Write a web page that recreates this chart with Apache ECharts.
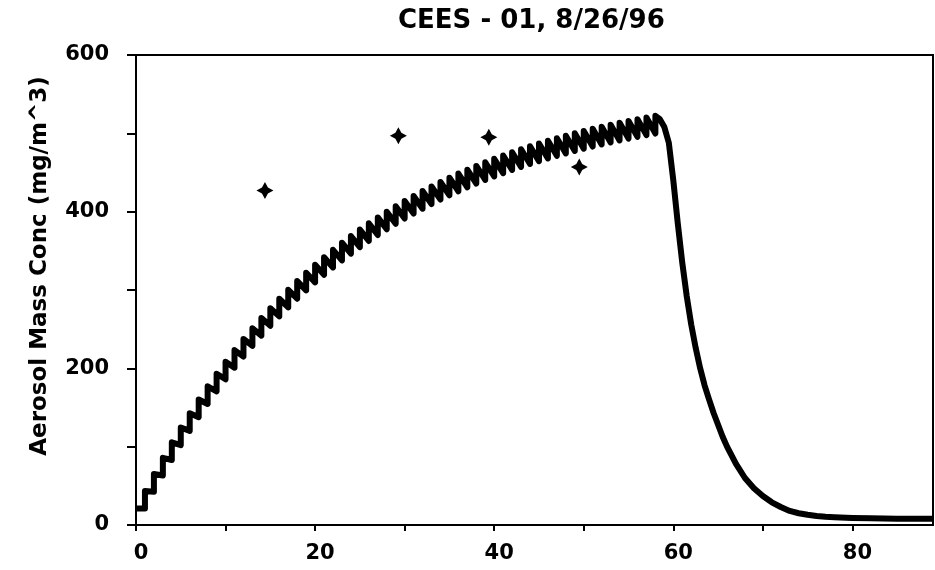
<!DOCTYPE html>
<html>
<head>
<meta charset="utf-8">
<script src="https://cdn.jsdelivr.net/npm/echarts@6/dist/echarts.min.js"></script>
<style>html,body{margin:0;padding:0;background:#fff}#chart{width:935px;height:570px}</style>
</head>
<body>
<div id="chart"></div>
<script>
// Pulse times (min) with the concentration just before each pulse and just after it
const pulseTimes = [0,1,2,3,4,5,6,7,8,9,10,11,12,13,14,15,16,17,18,19,20,21,22,23,24,25,26,27,28,29,30,31,32,33,34,35,36,37,38,39,40,41,42,43,44,45,46,47,48,49,50,51,52,53,54,55,56,57,58];
const beforePulse = [null,21.0,42.5,63.2,83.0,102.0,120.2,137.7,154.5,170.6,186.0,200.8,215.0,228.7,241.7,254.3,266.3,277.8,288.9,299.5,309.7,319.4,328.8,337.8,346.4,354.7,362.6,370.2,377.5,384.5,391.2,397.6,403.8,409.7,415.4,420.9,426.1,431.1,435.9,440.5,445.0,449.2,453.3,457.2,460.9,464.5,468.0,471.3,474.4,477.5,480.4,483.2,485.9,488.4,490.9,493.3,495.6,497.7,499.8];
const afterPulse = [21.0,43.5,65.0,85.7,105.5,124.5,142.7,160.2,177.0,193.1,208.5,223.3,237.5,251.2,264.2,276.8,288.8,300.3,311.4,322.0,332.2,341.9,351.3,360.3,368.9,377.2,385.1,392.7,400.0,407.0,413.7,420.1,426.3,432.2,437.9,443.4,448.6,453.6,458.4,463.0,467.5,471.7,475.8,479.7,483.4,487.0,490.5,493.8,496.9,500.0,502.9,505.7,508.4,510.9,513.4,515.8,518.1,520.2,522.3];
// Clearing phase
const fallTimes = [58.5,59,59.5,60,60.5,61,61.5,62,62.5,63,63.5,64,64.5,65,65.5,66,67,68,69,70,71,72,73,74,75,76,77,78,80,82,85,89];
const fallConc = [518,508,488,440,385,335,292,256,226,200,178,160,143,128,113,100,78,60,47,37,29,23,18,15,13,11.5,10.5,10,9,8.5,8,8];
// Measured samples
const sampleTimes = [14.4,29.3,39.4,49.5];
const sampleConc = [427,497,495,457];
const xTickLabels = [0,20,40,60,80];
const yTickLabels = [0,200,400,600];

const lineData = [];
pulseTimes.forEach((t, i) => {
  if (beforePulse[i] !== null) lineData.push([t, beforePulse[i]]);
  lineData.push([t, afterPulse[i]]);
});
fallTimes.forEach((t, i) => lineData.push([t, fallConc[i]]));
const sampleData = sampleTimes.map((t, i) => [t, sampleConc[i]]);

const chart = echarts.init(document.getElementById('chart'));
const font = 'DejaVu Sans';
chart.setOption({
  animation: false,
  backgroundColor: '#fff',
  title: {
    text: 'CEES - 01, 8/26/96',
    left: 393, top: 3,
    textStyle: { fontFamily: font, fontWeight: 'bold', fontSize: 26, color: '#000' }
  },
  grid: { left: 136, right: 2, top: 55, bottom: 45, show: true, borderColor: '#000', borderWidth: 2 },
  xAxis: {
    type: 'value', min: 0, max: 89, interval: 10,
    axisLine: { lineStyle: { color: '#000', width: 2 } },
    axisTick: { inside: false, length: 6, lineStyle: { color: '#000', width: 2 } },
    splitLine: { show: false },
    axisLabel: {
      margin: 18, color: '#000', fontFamily: font, fontWeight: 'bold', fontSize: 21,
      padding: [0, 0, 0, 10],
      showMaxLabel: false,
      formatter: v => xTickLabels.indexOf(v) >= 0 ? String(v) : ''
    }
  },
  yAxis: {
    type: 'value', min: 0, max: 600, interval: 100,
    name: 'Aerosol Mass Conc (mg/m^3)',
    nameLocation: 'middle', nameGap: 84,
    nameTextStyle: { fontFamily: font, fontWeight: 'bold', fontSize: 23, color: '#000', padding: [0, 0, 0, 48] },
    axisLine: { lineStyle: { color: '#000', width: 2 } },
    axisTick: { inside: false, length: 9, lineStyle: { color: '#000', width: 2 } },
    splitLine: { show: false },
    axisLabel: {
      margin: 27, color: '#000', fontFamily: font, fontWeight: 'bold', fontSize: 21,
      formatter: v => yTickLabels.indexOf(v) >= 0 ? String(v) : ''
    }
  },
  series: [
    {
      type: 'line', data: lineData, showSymbol: false, symbol: 'none',
      lineStyle: { color: '#000', width: 6, join: 'round' }, z: 2
    },
    {
      type: 'scatter', data: sampleData,
      symbol: 'path://M0,-10 L3.5,-3.5 L10,0 L3.5,3.5 L0,10 L-3.5,3.5 L-10,0 L-3.5,-3.5 Z',
      symbolSize: 17, itemStyle: { color: '#000', opacity: 1 }, z: 3
    }
  ]
});
</script>
</body>
</html>
